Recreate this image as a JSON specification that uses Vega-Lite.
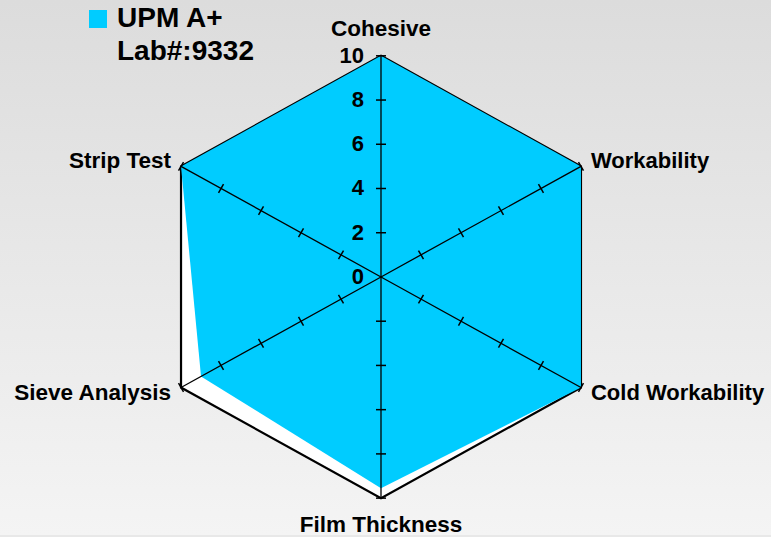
{
  "$schema": "https://vega.github.io/schema/vega-lite/v6.json",
  "width": 771,
  "height": 537,
  "autosize": {"type": "fit", "contains": "padding"},
  "padding": 0,
  "background": "#e8e8e8",
  "view": {
    "stroke": null,
    "fill": {
      "gradient": "linear", "x1": 0, "y1": 0, "x2": 0, "y2": 1,
      "stops": [{"offset": 0, "color": "#dcdcdc"}, {"offset": 1, "color": "#f4f4f4"}]
    }
  },
  "config": {
    "font": "Liberation Sans",
    "style": {"guide-label": {"lineHeight": 33, "dy": -14}}
  },
  "datasets": {
    "scores": [
      {"criterion": "Cohesive", "i": 0, "value": 10, "series": "UPM A+"},
      {"criterion": "Workability", "i": 1, "value": 10, "series": "UPM A+"},
      {"criterion": "Cold Workability", "i": 2, "value": 10, "series": "UPM A+"},
      {"criterion": "Film Thickness", "i": 3, "value": 9.55, "series": "UPM A+"},
      {"criterion": "Sieve Analysis", "i": 4, "value": 9.0, "series": "UPM A+"},
      {"criterion": "Strip Test", "i": 5, "value": 10, "series": "UPM A+"}
    ],
    "grid": [
      {"v": 0, "spoke": [0, 1, 2, 3, 4, 5]},
      {"v": 2, "spoke": [0, 1, 2, 3, 4, 5]},
      {"v": 4, "spoke": [0, 1, 2, 3, 4, 5]},
      {"v": 6, "spoke": [0, 1, 2, 3, 4, 5]},
      {"v": 8, "spoke": [0, 1, 2, 3, 4, 5]},
      {"v": 10, "spoke": [0, 1, 2, 3, 4, 5]}
    ]
  },
  "encoding": {
    "x": {"field": "px", "type": "quantitative", "scale": {"domain": [-16.5, 16.89], "nice": false, "zero": false}, "axis": null},
    "y": {"field": "py", "type": "quantitative", "scale": {"domain": [-11.667, 12.523], "nice": false, "zero": false}, "axis": null}
  },
  "layer": [
    {
      "data": {"name": "scores"},
      "transform": [
        {"calculate": "10*cos(PI/2 - datum.i*PI/3)", "as": "px"},
        {"calculate": "10*sin(PI/2 - datum.i*PI/3)", "as": "py"}
      ],
      "mark": {"type": "line", "interpolate": "linear-closed", "fill": "white", "stroke": "black", "strokeWidth": 2.2},
      "encoding": {"order": {"field": "i", "type": "quantitative"}}
    },
    {
      "data": {"name": "scores"},
      "transform": [
        {"calculate": "datum.value*cos(PI/2 - datum.i*PI/3)", "as": "px"},
        {"calculate": "datum.value*sin(PI/2 - datum.i*PI/3)", "as": "py"}
      ],
      "mark": {"type": "line", "interpolate": "linear-closed", "fill": "#00ccff", "strokeWidth": 0},
      "encoding": {
        "order": {"field": "i", "type": "quantitative"},
        "fill": {
          "field": "series", "type": "nominal",
          "scale": {"range": ["#00ccff"]},
          "legend": {
            "title": null,
            "orient": "none",
            "legendX": 84,
            "legendY": 5,
            "padding": 0,
            "symbolType": "square",
            "symbolSize": 324,
            "symbolStrokeWidth": 0,
            "symbolOpacity": 1,
            "labelFont": "Liberation Sans",
            "labelFontWeight": "bold",
            "labelFontSize": 28,
            "labelColor": "black",
            "labelBaseline": "top",
            "labelOffset": 5,
            "labelLimit": 0,
            "labelExpr": "['UPM A+', 'Lab#:9332']"
          }
        }
      }
    },
    {
      "data": {"name": "scores"},
      "transform": [
        {"calculate": "10*cos(PI/2 - datum.i*PI/3)", "as": "px"},
        {"calculate": "10*sin(PI/2 - datum.i*PI/3)", "as": "py"}
      ],
      "mark": {"type": "rule", "stroke": "black", "strokeWidth": 1.3},
      "encoding": {
        "x": {"datum": 0, "type": "quantitative"},
        "y": {"datum": 0, "type": "quantitative"},
        "x2": {"field": "px"},
        "y2": {"field": "py"}
      }
    },
    {
      "data": {"name": "grid"},
      "transform": [
        {"filter": "datum.v > 0"},
        {"flatten": ["spoke"]},
        {"calculate": "datum.v*cos(PI/2 - datum.spoke*PI/3)", "as": "px"},
        {"calculate": "datum.v*sin(PI/2 - datum.spoke*PI/3)", "as": "py"},
        {"calculate": "datum.spoke*60", "as": "ang"}
      ],
      "mark": {"type": "point", "shape": "M-1,0L1,0", "size": 100, "filled": false, "stroke": "black", "strokeWidth": 1.5, "opacity": 1},
      "encoding": {
        "angle": {"field": "ang", "type": "quantitative", "scale": null}
      }
    },
    {
      "data": {"name": "grid"},
      "transform": [
        {"calculate": "0", "as": "px"},
        {"calculate": "datum.v", "as": "py"}
      ],
      "mark": {"type": "text", "align": "right", "baseline": "middle", "dx": -17, "fontSize": 22, "fontWeight": "bold", "font": "Liberation Sans", "color": "black"},
      "encoding": {"text": {"field": "v", "type": "quantitative"}}
    },
    {
      "data": {"name": "scores"},
      "transform": [
        {"filter": "datum.i == 0 || datum.i == 3"},
        {"calculate": "11.2*cos(PI/2 - datum.i*PI/3)", "as": "px"},
        {"calculate": "11.2*sin(PI/2 - datum.i*PI/3)", "as": "py"}
      ],
      "mark": {"type": "text", "align": "center", "baseline": "middle", "fontSize": 22.5, "fontWeight": "bold", "font": "Liberation Sans", "color": "black"},
      "encoding": {"text": {"field": "criterion", "type": "nominal"}}
    },
    {
      "data": {"name": "scores"},
      "transform": [
        {"filter": "datum.i == 1 || datum.i == 2"},
        {"calculate": "10.5*cos(PI/2 - datum.i*PI/3)", "as": "px"},
        {"calculate": "10.5*sin(PI/2 - datum.i*PI/3)", "as": "py"}
      ],
      "mark": {"type": "text", "align": "left", "baseline": "middle", "fontSize": 22, "fontWeight": "bold", "font": "Liberation Sans", "color": "black"},
      "encoding": {"text": {"field": "criterion", "type": "nominal"}}
    },
    {
      "data": {"name": "scores"},
      "transform": [
        {"filter": "datum.i == 4 || datum.i == 5"},
        {"calculate": "10.5*cos(PI/2 - datum.i*PI/3)", "as": "px"},
        {"calculate": "10.5*sin(PI/2 - datum.i*PI/3)", "as": "py"}
      ],
      "mark": {"type": "text", "align": "right", "baseline": "middle", "fontSize": 22.5, "fontWeight": "bold", "font": "Liberation Sans", "color": "black"},
      "encoding": {"text": {"field": "criterion", "type": "nominal"}}
    }
  ]
}
